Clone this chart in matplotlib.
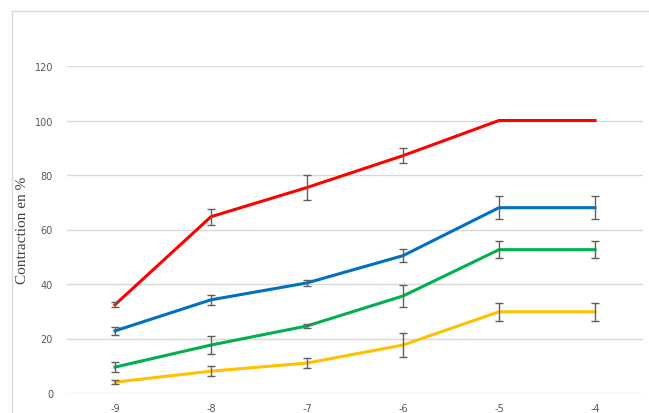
import matplotlib.pyplot as plt
from matplotlib.patches import Rectangle

plt.rcParams['axes.unicode_minus'] = False

# log concentration
conc = [-9, -8, -7, -6, -5, -4]

red = [32.4, 64.7, 75.4, 87.1, 100, 100]
red_err = [1.0, 3.0, 4.7, 2.7, 0, 0]
blue = [22.8, 34.2, 40.4, 50.4, 68, 68]
blue_err = [1.5, 1.8, 1.0, 2.5, 4.2, 4.2]
green = [9.5, 17.6, 24.6, 35.6, 52.6, 52.6]
green_err = [1.8, 3.2, 0.7, 4.2, 3.2, 3.2]
yellow = [4.0, 8.0, 11.0, 17.6, 29.8, 29.8]
yellow_err = [0.7, 1.8, 1.7, 4.3, 3.2, 3.2]

yticks = [0, 20, 40, 60, 80, 100, 120]

fig = plt.figure(figsize=(6.49, 4.14), dpi=100)
ax = fig.add_axes([67 / 649, 20 / 414, 576 / 649, 327 / 414])

series = [(red, red_err, '#FF0000'), (blue, blue_err, '#0070C0'),
          (green, green_err, '#00B050'), (yellow, yellow_err, '#FFC000')]
for vals, err, col in series:
    ax.plot(conc, vals, color=col, lw=2.2, zorder=3)
    # only the points that have an error bar
    xs = [c for c, e in zip(conc, err) if e > 0]
    ys = [v for v, e in zip(vals, err) if e > 0]
    es = [e for e in err if e > 0]
    ax.errorbar(xs, ys, yerr=es, fmt='none', ecolor='#606060',
                elinewidth=1.0, capsize=3, capthick=1.0, zorder=4)

ax.set_xlim(-9.5, -3.5)
ax.set_ylim(0, 120)
ax.set_yticks(yticks)
ax.set_xticks(conc)
ax.grid(axis='y', color='#D9D9D9', lw=1)
ax.set_axisbelow(True)
for s in ax.spines.values():
    s.set_visible(False)
ax.tick_params(length=0, labelsize=7, colors='#595959', pad=10)
ax.tick_params(axis='x', pad=7)
ax.set_ylabel('Contraction en %', family='Liberation Serif', fontsize=11,
              color='#404040', labelpad=4)

# chart border
fig.patches.append(Rectangle((12 / 649, -0.01), 1.0, 1 - 12 / 414 + 0.01,
                             transform=fig.transFigure, fill=False,
                             edgecolor='#D9D9D9', lw=1))

fig.savefig('out.png', dpi=100)
